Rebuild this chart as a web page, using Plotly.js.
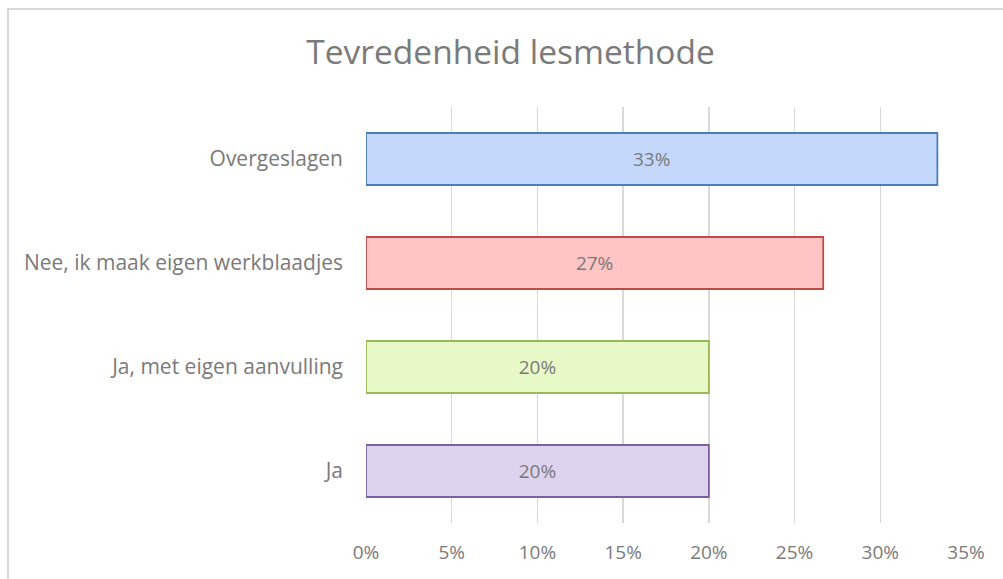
<!DOCTYPE html>
<html>
<head>
<meta charset="utf-8">
<script src="https://cdn.plot.ly/plotly-3.0.1.min.js"></script>
<style>
  html, body { margin: 0; padding: 0; overflow: hidden; background: #fff; }
  #chart { width: 1003px; height: 579px; }
  #frame { position: absolute; left: 7px; top: 8px; width: 1200px; height: 800px;
           border: 2px solid #d9d9d9; pointer-events: none; }
</style>
</head>
<body>
<div id="chart"></div>
<div id="frame"></div>
<script>
// Data (top to bottom)
const categories = ["Overgeslagen", "Nee, ik maak eigen werkblaadjes", "Ja, met eigen aanvulling", "Ja"];
const values = [0.3333, 0.2667, 0.20, 0.20];
const fillColors = ["#c4d8fb", "#ffc4c4", "#e8f9c8", "#ddd3ef"];
const lineColors = ["#4a7ebb", "#be4b48", "#98b954", "#7d60a0"];
const tickVals = [0, 0.05, 0.10, 0.15, 0.20, 0.25, 0.30, 0.35];
const tickText = ["0%", "5%", "10%", "15%", "20%", "25%", "30%", "35%"];

const FONT = "Open Sans, Lato, sans-serif";
const GREY = "#7a7a7a";

const trace = {
  type: "bar",
  orientation: "h",
  y: categories,
  x: values,
  marker: { color: fillColors, line: { color: lineColors, width: 1.8 } },
  texttemplate: "%{x:.0%}",
  textposition: "inside",
  insidetextanchor: "middle",
  textfont: { family: FONT, size: 19, color: GREY },
  hoverinfo: "skip"
};

const layout = {
  width: 1003, height: 579,
  margin: { l: 366, r: 37, t: 107, b: 56 },
  paper_bgcolor: "#fff", plot_bgcolor: "#fff",
  showlegend: false,
  bargap: 0.5,
  title: { text: "Tevredenheid lesmethode", font: { family: FONT, size: 33.5, color: "#7a7a7a" },
           x: 0.509, xref: "container", y: 0.91, yref: "container", xanchor: "center", yanchor: "middle" },
  xaxis: {
    range: [0, 0.35], tickvals: tickVals, ticktext: tickText,
    showgrid: true, gridcolor: "#d9d9d9", gridwidth: 1.3,
    zeroline: false, showline: false, ticks: "",
    tickfont: { family: FONT, size: 19, color: GREY },
    ticklabelstandoff: 16, fixedrange: true
  },
  yaxis: {
    type: "category", categoryorder: "array", categoryarray: categories,
    autorange: "reversed", showgrid: false, zeroline: false, showline: false, ticks: "",
    tickfont: { family: FONT, size: 21, color: GREY },
    ticklabelstandoff: 22, fixedrange: true
  }
};

Plotly.newPlot("chart", [trace], layout, { displayModeBar: false, staticPlot: true });
</script>
</body>
</html>
